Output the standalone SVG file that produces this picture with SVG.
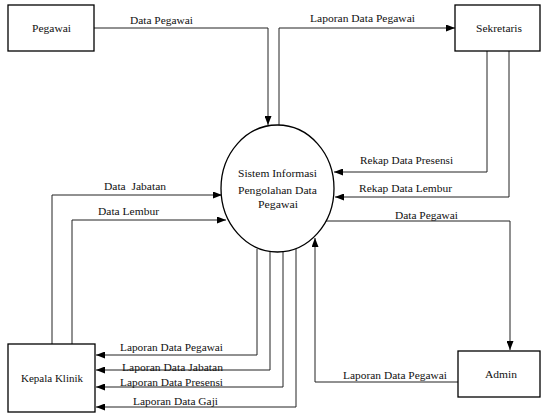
<svg xmlns="http://www.w3.org/2000/svg" width="541" height="414" viewBox="0 0 541 414" font-family="Liberation Serif, DejaVu Serif, serif" font-size="11">
<style>
.box{fill:#fff;stroke:#000;stroke-width:1.3}
.c{fill:none;stroke:#222;stroke-width:1}
text{fill:#111}
.m{text-anchor:middle}
</style>
<defs>
<marker id="a" markerWidth="9" markerHeight="7" refX="9" refY="3.5" orient="auto" markerUnits="userSpaceOnUse">
<path d="M0,0 L9,3.5 L0,7 z" fill="#000"/>
</marker>
</defs>
<rect width="541" height="414" fill="#fff"/>
<g id="connectors">
<polyline class="c" points="94,28 268,28 268,125" marker-end="url(#a)"/>
<polyline class="c" points="279,126 279,28 455,28" marker-end="url(#a)"/>
<polyline class="c" points="487,51 487,172 334,172" marker-end="url(#a)"/>
<polyline class="c" points="509,51 509,197 335,197" marker-end="url(#a)"/>
<polyline class="c" points="324,221 510,221 510,350" marker-end="url(#a)"/>
<polyline class="c" points="458,382 315,382 315,238" marker-end="url(#a)"/>
<polyline class="c" points="52,344 52,195 222,195" marker-end="url(#a)"/>
<polyline class="c" points="72,344 72,220 226,220" marker-end="url(#a)"/>
<polyline class="c" points="257,249 257,355 96,355" marker-end="url(#a)"/>
<polyline class="c" points="270,251 270,370 96,370" marker-end="url(#a)"/>
<polyline class="c" points="283,251 283,387 96,387" marker-end="url(#a)"/>
<polyline class="c" points="296,249 296,407 96,407" marker-end="url(#a)"/>
<text x="161.5" y="24" class="m" textLength="63" lengthAdjust="spacingAndGlyphs">Data Pegawai</text>
<text x="362.5" y="22" class="m" textLength="105" lengthAdjust="spacingAndGlyphs">Laporan Data Pegawai</text>
<text x="406.5" y="164" class="m" textLength="93" lengthAdjust="spacingAndGlyphs">Rekap Data Presensi</text>
<text x="405.5" y="192" class="m" textLength="93" lengthAdjust="spacingAndGlyphs">Rekap Data Lembur</text>
<text x="426.5" y="219" class="m" textLength="63" lengthAdjust="spacingAndGlyphs">Data Pegawai</text>
<text x="395" y="379" class="m" textLength="104" lengthAdjust="spacingAndGlyphs">Laporan Data Pegawai</text>
<text x="135" y="190" class="m" xml:space="preserve" textLength="62" lengthAdjust="spacingAndGlyphs">Data  Jabatan</text>
<text x="128.5" y="215" class="m" textLength="61" lengthAdjust="spacingAndGlyphs">Data Lembur</text>
<text x="171.5" y="351" class="m" textLength="103" lengthAdjust="spacingAndGlyphs">Laporan Data Pegawai</text>
<text x="172.5" y="371" class="m" textLength="101" lengthAdjust="spacingAndGlyphs">Laporan Data Jabatan</text>
<text x="171.5" y="386" class="m" textLength="103" lengthAdjust="spacingAndGlyphs">Laporan Data Presensi</text>
<text x="175.5" y="405" class="m" textLength="85" lengthAdjust="spacingAndGlyphs">Laporan Data Gaji</text>
</g>
<g id="pegawai">
<rect class="box" x="8" y="5" width="86" height="46"/>
<text x="51.5" y="32" class="m" textLength="39" lengthAdjust="spacingAndGlyphs">Pegawai</text>
</g>
<g id="sekretaris">
<rect class="box" x="455" y="5" width="85" height="46"/>
<text x="499" y="32" class="m" textLength="46" lengthAdjust="spacingAndGlyphs">Sekretaris</text>
</g>
<g id="sistem">
<ellipse cx="277.5" cy="188.5" rx="56.5" ry="63.5" fill="#fff" stroke="#000" stroke-width="1.3"/>
<text x="277.5" y="177" class="m" textLength="79" lengthAdjust="spacingAndGlyphs">Sistem Informasi</text>
<text x="277.5" y="194" class="m" textLength="79" lengthAdjust="spacingAndGlyphs">Pengolahan Data</text>
<text x="278" y="208" class="m" textLength="40" lengthAdjust="spacingAndGlyphs">Pegawai</text>
</g>
<g id="admin">
<rect class="box" x="458" y="351" width="82" height="46"/>
<text x="501" y="378" class="m" textLength="32" lengthAdjust="spacingAndGlyphs">Admin</text>
</g>
<g id="kepala">
<rect class="box" x="8" y="344" width="87" height="68"/>
<text x="52" y="382" class="m" textLength="62" lengthAdjust="spacingAndGlyphs">Kepala Klinik</text>
</g>
</svg>
